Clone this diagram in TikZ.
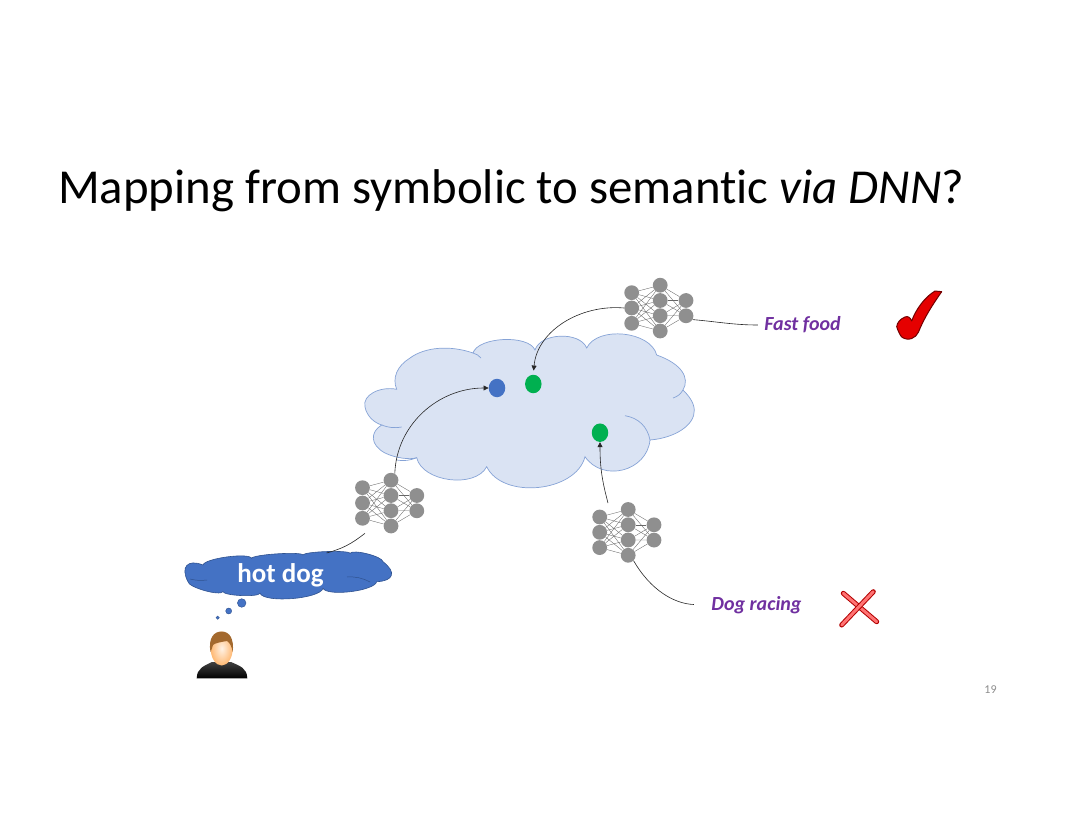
\documentclass[tikz,border=0pt]{standalone}
\usepackage{fontspec}
\setmainfont[Ligatures=NoCommon]{Carlito}
\usetikzlibrary{arrows.meta, shapes.geometric}
\tikzset{>={Triangle[length=5pt,width=5pt]}}
\definecolor{cloudfill}{HTML}{DAE3F3}
\definecolor{cloudedge}{HTML}{86A3D6}
\definecolor{dotblue}{HTML}{4472C4}
\definecolor{dotgreen}{HTML}{00B050}
\definecolor{thoughtedge}{HTML}{2F528F}
\definecolor{labelpurple}{HTML}{7030A0}
\definecolor{neurongray}{HTML}{8F8F8F}
\tikzset{
  neuron/.style={circle, fill=neurongray, inner sep=0pt, minimum size=14.8pt},
  synapse/.style={draw=black!60, line width=0.35pt},
  link/.style={draw=black!85, line width=0.6pt},
  answer/.style={text=labelpurple, font=\fontsize{20}{22}\selectfont\bfseries\itshape},
  embedding/.style={ellipse, inner sep=0pt, minimum width=16.5pt, minimum height=18.5pt},
  bubble/.style={circle, fill=dotblue, draw=thoughtedge, line width=0.4pt, inner sep=0pt},
  crossbar/.style={line cap=round, line width=1pt, draw=red!70!black, double=red!55!white, double distance=3pt},
}
\newcommand{\dnn}[3]{%
  \foreach \i/\dy in {1/-15.3,2/0,3/15.3}
    \node[neuron] (#1-l\i) at (#2,#3+\dy) {};
  \foreach \j/\dy in {1/-22.8,2/-7.5,3/7.7,4/23}
    \node[neuron] (#1-m\j) at (#2+28.5,#3+\dy) {};
  \foreach \k/\dy in {1/-7.5,2/7.8}
    \node[neuron] (#1-r\k) at (#2+54.3,#3+\dy) {};
  \foreach \i in {1,2,3} \foreach \j in {1,2,3,4}
    \draw[synapse] (#1-l\i) -- (#1-m\j);
  \foreach \j in {1,2,3,4} \foreach \k in {1,2}
    \draw[synapse] (#1-m\j) -- (#1-r\k);
}

\begin{document}
\begin{tikzpicture}[x=1pt, y=-1pt]
  \useasboundingbox (0,0) rectangle (1080,829);

  \node[anchor=base west, inner sep=0pt, font=\fontsize{48.8}{52}\selectfont] (title) at (58,204)
    {Mapping from symbolic to semantic \textit{via DNN}?};
  \node[text=black!45, font=\fontsize{12}{14}\selectfont] (pagenum) at (990.5,689.5) {19};

  % semantic space
  \draw[fill=cloudfill, draw=cloudedge, line width=0.7pt]
    (396.7,389.3) .. controls (380,386) and (362,395) .. (365,407)
    .. controls (367,417) and (375,423) .. (381.7,425)
    .. controls (370,432) and (370,445) .. (385,453)
    .. controls (395,458) and (410,460) .. (416.7,457.7)
    to[bend right=70, looseness=0.9] (486.7,466.7)
    to[bend right=70, looseness=0.95] (585,456.7)
    to[bend right=70, looseness=1.2] (650,440)
    .. controls (675,438) and (695,425) .. (694.3,410)
    .. controls (694,402) and (688,395) .. (683,390)
    .. controls (690,378) and (682,364) .. (656.7,355)
    to[bend right=70, looseness=0.9] (586.7,348)
    to[bend right=70, looseness=0.9] (535,350)
    to[bend right=70, looseness=0.7] (473,353)
    .. controls (450,345) and (425,347) .. (410,358)
    .. controls (397,366) and (392,378) .. cycle;
  \draw[draw=cloudedge, line width=0.7pt] (625,415.7) to[bend left=35] (650,440);
  \draw[draw=cloudedge, line width=0.7pt] (673,398) to[bend right=20] (683,390);
  \draw[draw=cloudedge, line width=0.7pt] (381.7,425) to[bend right=15] (401.7,427);
  \draw[draw=cloudedge, line width=0.7pt] (396.7,460) to[bend right=15] (416.7,457.7);
  \draw[draw=cloudedge, line width=0.7pt] (473,353) to[bend left=15] (481,358);

  \node[embedding, fill=dotblue] (blue) at (497,388) {};
  \node[embedding, fill=dotgreen] (greena) at (533.3,384) {};
  \node[embedding, fill=dotgreen] (greenb) at (600,432.7) {};

  \dnn{dnnA}{362.5}{503}
  \dnn{dnnB}{599.7}{532.3}
  \dnn{dnnC}{631.7}{308}

  % thought cloud
  \draw[fill=dotblue, draw=thoughtedge, line width=0.6pt]
    (203,565) to[bend left=70, looseness=0.35] (251.7,558.3)
    to[bend left=70, looseness=0.2] (303,555)
    to[bend left=70, looseness=0.2] (350,553.3)
    to[bend left=70, looseness=0.4] (383,561.7)
    to[bend left=70, looseness=2.1] (376.7,581.7)
    to[bend left=70, looseness=0.45] (323,588.3)
    to[bend left=70, looseness=0.45] (260,593.3)
    to[bend left=70, looseness=0.3] (223,591.7)
    to[bend left=70, looseness=0.4] (188,581.7)
    to[bend left=70, looseness=1.9] cycle;
  \draw[draw=thoughtedge, line width=0.5pt] (190,579) to[bend right=10] (207,580);
  \draw[draw=thoughtedge, line width=0.5pt] (347,577) to[bend left=15] (370,582);
  \node[text=white, font=\fontsize{27}{29}\selectfont\bfseries] (hotdog) at (280.5,575.5) {hot dog};
  \node[bubble, minimum size=8.6pt] (bubblea) at (241.7,603) {};
  \node[bubble, minimum size=6pt] (bubbleb) at (228.7,611) {};
  \node[bubble, minimum size=3.4pt] (bubblec) at (217.7,617.7) {};

  % person
  \shade[top color=black!75, bottom color=black]
    (196.7,678.3) .. controls (197,668) and (204,666) .. (212,662)
    -- (231,662) .. controls (240,666) and (247,668) .. (247.3,678.3) -- cycle;
  \shade[inner color=orange!10!white, outer color=orange!55!white]
    (221.7,648.5) ellipse (11 and 17);
  \fill[brown!80!black!90!orange]
    (210.5,652) .. controls (208,638) and (214,631.5) .. (221.5,631.5)
    .. controls (230,631.5) and (234,639) .. (232.8,652)
    .. controls (231.5,646) and (230,643) .. (227,641)
    .. controls (221,642) and (215,643) .. (213,645)
    .. controls (212,647) and (212,650) .. (210.5,652) -- cycle;

  % answers
  \node[answer] (fastfood) at (802.5,325) {Fast food};
  \node[answer] (dogracing) at (756.5,605) {Dog racing};
  \draw[fill=red!90!black, draw=red!45!black, line width=1pt, line join=round]
    (941.7,291.7) -- (935,291) .. controls (925,297) and (916,309) .. (911.7,321)
    .. controls (910,317) and (908,316) .. (905,317)
    .. controls (900,319) and (897,323) .. (896.7,326.7)
    .. controls (898,331) and (900,335) .. (901.7,337)
    .. controls (905,339.5) and (909,339.5) .. (911.7,338.5)
    .. controls (915,337.5) and (917,335) .. (918.5,332)
    .. controls (924,318) and (933,304) .. cycle;
  \draw[crossbar] (843.3,593.3) -- (876.7,621.7);
  \draw[crossbar] (873.3,591.7) -- (841.7,625);

  % connectors
  \coordinate (thoughtout) at (326.5,553);
  \coordinate (dnnAin) at (365,533.3);
  \coordinate (dnnBout) at (608,503);
  \draw[link] (thoughtout) to[out=15, in=218] (dnnAin);
  \draw[link, ->] (dnnA-m1.60) to[out=88, in=180] (blue.west);
  \draw[link, ->, shorten >=4pt] (dnnC-l2.west) to[out=175, in=85] (greena.north);
  \draw[link, ->] (dnnBout) to[out=105, in=270] (greenb.south);
  \draw[link, shorten >=14pt] (dnnB-m4.-45) to[out=-60, in=178] (dogracing.west);
  \draw[link, shorten >=3pt] (dnnC-r2.-30) to[out=-5, in=180] (fastfood.west);
\end{tikzpicture}
\end{document}
